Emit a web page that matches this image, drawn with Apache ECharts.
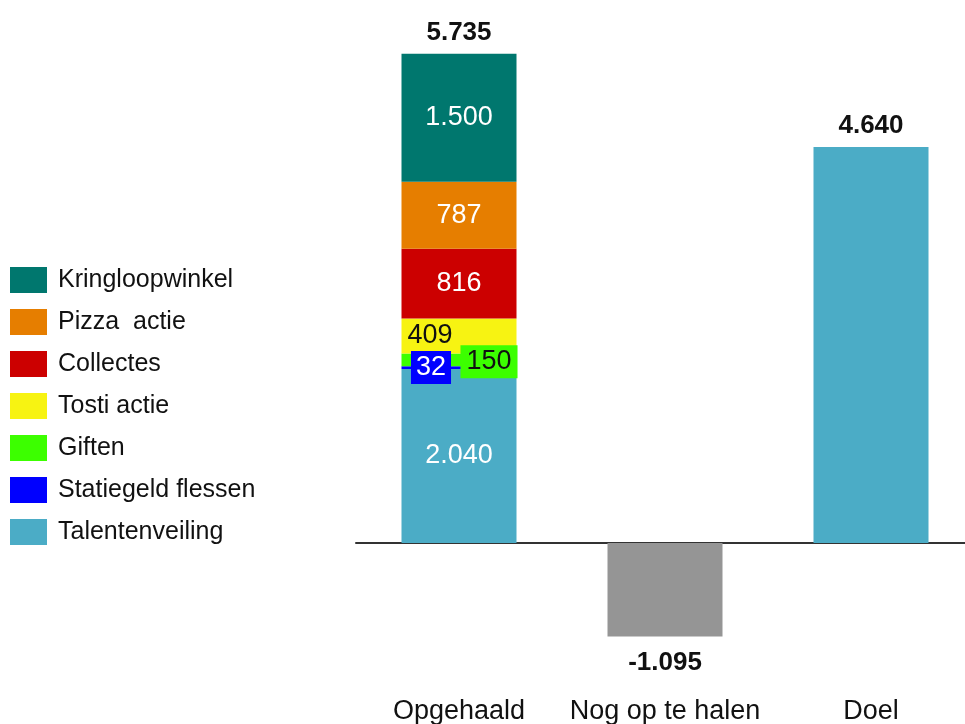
<!DOCTYPE html>
<html>
<head>
<meta charset="utf-8">
<script src="https://cdn.jsdelivr.net/npm/echarts@6/dist/echarts.min.js"></script>
<style>
  html, body { margin: 0; padding: 0; background: #fff; }
  #chart { width: 965px; height: 724px; }
</style>
</head>
<body>
<div id="chart"></div>
<script>
// categories on the x axis
var categories = ['Opgehaald', 'Nog op te halen', 'Doel'];

// parts of "Opgehaald", bottom to top
var partNames = ['Talentenveiling', 'Statiegeld flessen', 'Giften', 'Tosti actie', 'Collectes', 'Pizza  actie', 'Kringloopwinkel'];
var partValues = [2040, 32, 150, 409, 816, 787, 1500];
var partColors = ['#4bacc6', '#0000ff', '#3cff00', '#f7f312', '#cc0000', '#e67e00', '#00776e'];

var opgehaaldTotal = 5735;
var nogOpTeHalen = -1095;
var doel = 4640;

var FONT = '"Liberation Sans", Arial, sans-serif';

function fmt(v) {
  var s = String(Math.abs(v)).replace(/\B(?=(\d{3})+(?!\d))/g, '.');
  return v < 0 ? '-' + s : s;
}

// label tweaks per part (the small ones get a box beside the bar)
var darkText = { 'Tosti actie': true, 'Giften': true };
function partLabel(name, color) {
  var lbl = {
    show: true,
    position: 'inside',
    fontFamily: FONT,
    fontSize: 27,
    color: darkText[name] ? '#111' : '#fff',
    formatter: function (p) { return fmt(p.value); }
  };
  if (name === 'Tosti actie') {
    lbl.position = 'insideLeft';
    lbl.distance = 6;
  }
  if (name === 'Statiegeld flessen') {
    lbl.backgroundColor = color;
    lbl.padding = [3, 5];
    lbl.offset = [-28, 0];
  }
  if (name === 'Giften') {
    lbl.backgroundColor = color;
    lbl.padding = [3, 6];
    lbl.offset = [30, 2];
  }
  return lbl;
}

var series = partNames.map(function (name, i) {
  return {
    name: name,
    type: 'bar',
    stack: 'all',
    xAxisIndex: 0,
    barWidth: 115,
    itemStyle: { color: partColors[i] },
    label: partLabel(name, partColors[i]),
    data: [partValues[i], '-', '-']
  };
});

// total label above the stack
series.push({
  name: 'Totaal',
  type: 'bar',
  stack: 'all',
  barWidth: 115,
  itemStyle: { color: 'transparent' },
  label: {
    show: true, position: 'top', distance: 8,
    fontFamily: FONT, fontSize: 26, fontWeight: 'bold', color: '#111',
    formatter: function () { return fmt(opgehaaldTotal); }
  },
  data: [0, '-', '-']
});

// remaining and target bars
series.push({
  name: 'Rest',
  type: 'bar',
  stack: 'all',
  barWidth: 115,
  label: {
    show: true, fontFamily: FONT, fontSize: 26, fontWeight: 'bold', color: '#111',
    formatter: function (p) { return fmt(p.value); }
  },
  data: [
    '-',
    { value: nogOpTeHalen, itemStyle: { color: '#959595' }, label: { position: 'bottom', distance: 13 } },
    { value: doel, itemStyle: { color: '#4bacc6' }, label: { position: 'top', distance: 8 } }
  ]
});

var chart = echarts.init(document.getElementById('chart'), null, { renderer: 'canvas' });
chart.setOption({
  animation: false,
  backgroundColor: '#fff',
  grid: { left: 356, top: 31, width: 618, height: 640, outerBoundsMode: 'none' },
  legend: {
    orient: 'vertical',
    left: 10,
    top: 267,
    padding: 0,
    itemWidth: 37,
    itemHeight: 26,
    itemGap: 16,
    icon: 'rect',
    selectedMode: false,
    textStyle: { fontFamily: FONT, fontSize: 25, color: '#111', padding: [0, 0, 0, 6] },
    data: partNames.slice().reverse()
  },
  xAxis: [
    {
      type: 'category',
      data: categories,
      axisLine: { onZero: true, lineStyle: { color: '#333', width: 2 } },
      axisTick: { show: false },
      axisLabel: { show: false }
    },
    {
      type: 'category',
      position: 'bottom',
      data: categories,
      axisLine: { show: false, onZero: false },
      axisTick: { show: false },
      axisLabel: {
        interval: 0, hideOverlap: false,
        fontFamily: FONT, fontSize: 27, color: '#111', margin: 27
      }
    }
  ],
  yAxis: {
    type: 'value',
    min: -1500,
    max: 6000,
    show: false,
    splitLine: { show: false }
  },
  series: series
});
</script>
</body>
</html>
